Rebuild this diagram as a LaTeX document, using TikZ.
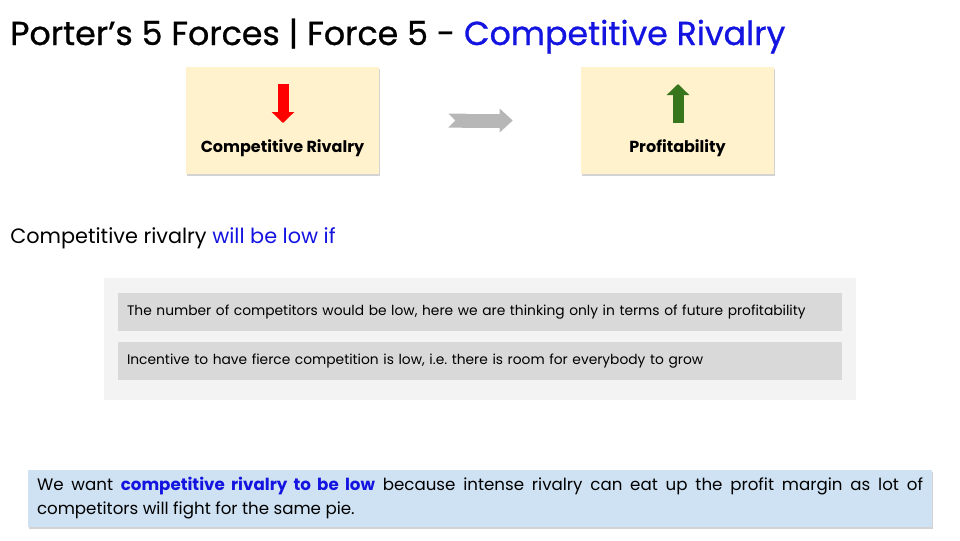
\documentclass[tikz,border=0pt]{standalone}
\usepackage{fontspec}
\setmainfont{Poppins}
\newfontfamily\headfont{Poppins}[FakeBold=0.8]
\usetikzlibrary{
	arrows.meta,
	positioning,
	shadows,
}
\definecolor{keyblue}{HTML}{1414E0}
\definecolor{cardyellow}{HTML}{FFF2CC}
\definecolor{panelgrey}{HTML}{F3F3F3}
\definecolor{rowgrey}{HTML}{D9D9D9}
\definecolor{noteblue}{HTML}{CFE2F3}
\definecolor{upgreen}{HTML}{38761D}
\definecolor{flowgrey}{HTML}{B7B7B7}
\tikzset{card/.style={fill=cardyellow,minimum width=144.75pt,minimum height=80.25pt,drop shadow={opacity=0.35,shadow xshift=0.8pt,shadow yshift=-1.2pt},}}
\tikzset{card label/.style={font=\fontsize{12}{14}\selectfont\bfseries,anchor=base,inner sep=0pt,}}
\tikzset{row/.style={fill=rowgrey,minimum width=543pt,minimum height=28.5pt,inner xsep=6.75pt,text width=529.5pt,align=left,font=\fontsize{10.35}{12}\selectfont,}}
\tikzset{trend/.style={line width=8.25pt,-{Triangle[width=16.5pt,length=8.25pt]},}}
\frenchspacing
\hyphenpenalty=10000
\exhyphenpenalty=10000

\begin{document}
\begin{tikzpicture}[x=0.75pt,y=-0.75pt]
\useasboundingbox (0,0) rectangle (960,540);

% heading
\node[anchor=base west,inner sep=0pt,font=\headfont\fontsize{24.9}{30}\selectfont] (title) at (10,45)
{Porter’s 5 Forces | Force 5 - \textcolor{keyblue}{Competitive Rivalry}};

% the two cards
\node[card] (rivalry) at (282.5,120.5) {};
\node[card] (profit) at (677.5,120.5) {};
\node[card label] (rivalrytext) at (282.5,152) {Competitive Rivalry};
\node[card label] (profittext) at (677.5,152) {Profitability};

\coordinate (downtop) at (283,84);
\coordinate (downend) at (283,123);
\coordinate (upbottom) at (678,123);
\coordinate (uptop) at (678,84);
\draw[trend,red] (downtop) -- (downend);
\draw[trend,upgreen] (upbottom) -- (uptop);

\draw[flowgrey,line width=10.5pt,{Triangle Cap[reversed]}-{Triangle[width=17.25pt,length=9.75pt]},shorten <=51.75pt,shorten >=51pt] (rivalry) -- (profit);

% condition
\node[anchor=base west,inner sep=0pt,font=\fontsize{15.6}{19}\selectfont] (intro) at (10,243)
{Competitive rivalry \textcolor{keyblue}{will be low if}};

\node[fill=panelgrey,minimum width=564pt,minimum height=91.5pt] (panel) at (480,339) {};
\node[row] (first) at (480,312) {The number of competitors would be low, here we are thinking only in terms of future profitability};
\node[row] (second) at (480,361) {Incentive to have fierce competition is low, i.e. there is room for everybody to grow};

% takeaway
\node[fill=noteblue,minimum width=678pt,minimum height=42.75pt,inner xsep=6.75pt,text width=664.5pt,align=justify,
font=\fontsize{12.5}{18}\selectfont,drop shadow={opacity=0.35,shadow xshift=0.8pt,shadow yshift=-1.2pt}] (note) at (480,498.5)
{We want \textcolor{keyblue}{\bfseries competitive rivalry to be low} because intense rivalry can eat up the profit margin as lot of \mbox{competitors} will fight for the same pie.};
\end{tikzpicture}
\end{document}
